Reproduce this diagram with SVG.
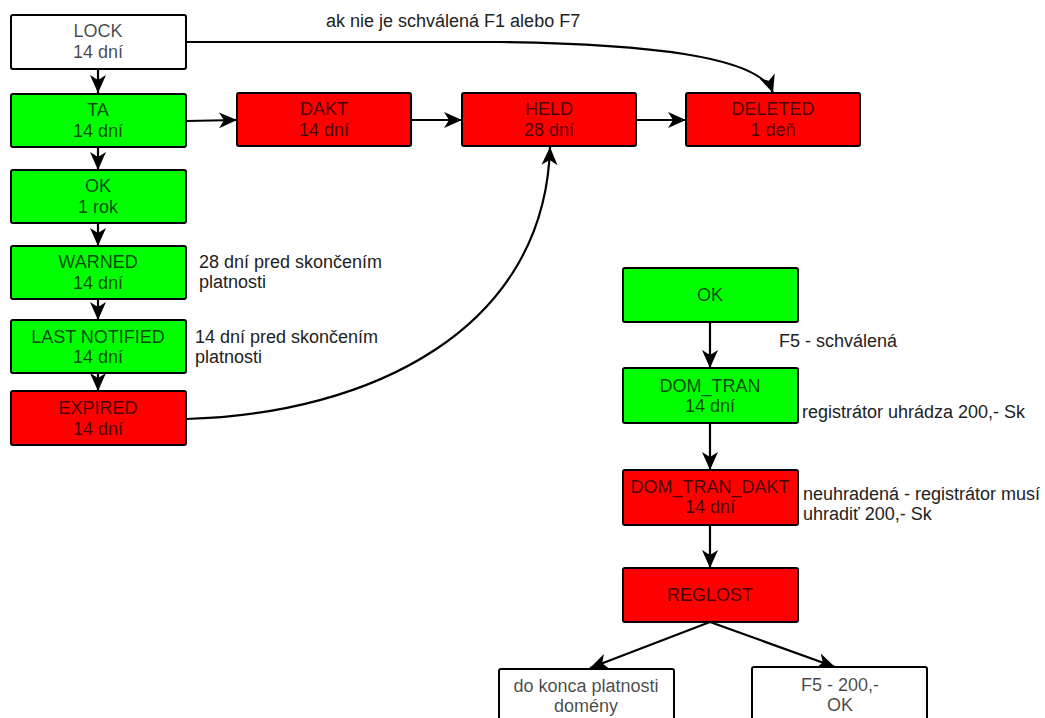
<svg xmlns="http://www.w3.org/2000/svg" width="1045" height="718" viewBox="0 0 1045 718">
<defs>
<style>
.n rect{stroke:#000;stroke-width:2}
.w{fill:#fff}.g{fill:#00ff00}.r{fill:#ff0000}
text{font-family:"Liberation Sans",Arial,sans-serif;font-size:18px}
.n text{text-anchor:middle;fill:#000;fill-opacity:0.72}
.lbl{fill:#222}
.c path,.c line{stroke:#000;stroke-width:2.2;fill:none}
</style>
<marker id="ah" markerUnits="userSpaceOnUse" markerWidth="20" markerHeight="20" viewBox="0 0 20 20" refX="18" refY="10" orient="auto">
<path d="M0,2 L18,10 L0,18 L5,10 z" fill="#000"/>
</marker>
</defs>
<rect width="1045" height="718" fill="#fff"/>

<g class="c" id="connectors">
<line x1="98" y1="69" x2="98" y2="93" marker-end="url(#ah)"/>
<line x1="98" y1="146" x2="98" y2="170" marker-end="url(#ah)"/>
<line x1="98" y1="223" x2="98" y2="246" marker-end="url(#ah)"/>
<line x1="98" y1="300" x2="98" y2="320" marker-end="url(#ah)"/>
<line x1="98" y1="373" x2="98" y2="391" marker-end="url(#ah)"/>
<line x1="186" y1="121" x2="237" y2="120" marker-end="url(#ah)"/>
<line x1="411" y1="120" x2="462" y2="120" marker-end="url(#ah)"/>
<line x1="636" y1="120" x2="686" y2="120" marker-end="url(#ah)"/>
<path d="M186,42 L500,42 C640,44 760,55 773,93" marker-end="url(#ah)"/>
<path d="M186,419 C370,414 545,330 550,147" marker-end="url(#ah)"/>
<line x1="710" y1="322" x2="710" y2="368" marker-end="url(#ah)"/>
<line x1="710" y1="423" x2="710" y2="470" marker-end="url(#ah)"/>
<line x1="710" y1="525" x2="710" y2="568" marker-end="url(#ah)"/>
<line x1="710" y1="622" x2="590" y2="668" marker-end="url(#ah)"/>
<line x1="710" y1="622" x2="835" y2="667" marker-end="url(#ah)"/>
</g>

<g class="n" id="lock"><rect class="w" x="11" y="15" width="175" height="54" rx="2"/><text x="98" y="37">LOCK</text><text x="98" y="58">14 dní</text></g>
<g class="n" id="ta"><rect class="g" x="11" y="94" width="175" height="53" rx="2"/><text x="98" y="116">TA</text><text x="98" y="137">14 dní</text></g>
<g class="n" id="ok1"><rect class="g" x="11" y="170" width="175" height="53" rx="2"/><text x="98" y="192">OK</text><text x="98" y="213">1 rok</text></g>
<g class="n" id="warned"><rect class="g" x="11" y="246" width="175" height="53" rx="2"/><text x="98" y="268">WARNED</text><text x="98" y="289">14 dní</text></g>
<g class="n" id="lastnotified"><rect class="g" x="11" y="320" width="175" height="53" rx="2"/><text x="98" y="343">LAST NOTIFIED</text><text x="98" y="363">14 dní</text></g>
<g class="n" id="expired"><rect class="r" x="11" y="391" width="175" height="54" rx="2"/><text x="98" y="414">EXPIRED</text><text x="98" y="435">14 dní</text></g>
<g class="n" id="dakt"><rect class="r" x="237" y="93" width="174" height="53" rx="2"/><text x="324" y="115">DAKT</text><text x="324" y="136">14 dní</text></g>
<g class="n" id="held"><rect class="r" x="462" y="93" width="174" height="53" rx="2"/><text x="549" y="115">HELD</text><text x="549" y="136">28 dní</text></g>
<g class="n" id="deleted"><rect class="r" x="686" y="93" width="174" height="53" rx="2"/><text x="773" y="115">DELETED</text><text x="773" y="136">1 deň</text></g>

<g class="n" id="ok2"><rect class="g" x="623" y="268" width="175" height="54" rx="2"/><text x="710" y="301">OK</text></g>
<g class="n" id="domtran"><rect class="g" x="623" y="368" width="175" height="55" rx="2"/><text x="710" y="392">DOM_TRAN</text><text x="710" y="412">14 dní</text></g>
<g class="n" id="domtrandakt"><rect class="r" x="623" y="470" width="175" height="55" rx="2"/><text x="710" y="493">DOM_TRAN_DAKT</text><text x="710" y="513">14 dní</text></g>
<g class="n" id="reglost"><rect class="r" x="623" y="568" width="175" height="54" rx="2"/><text x="710" y="601">REGLOST</text></g>
<g class="n" id="dokonca"><rect class="w" x="499" y="669" width="175" height="60" rx="2"/><text x="586" y="692">do konca platnosti</text><text x="586" y="712">domény</text></g>
<g class="n" id="f5ok"><rect class="w" x="752" y="667" width="175" height="60" rx="2"/><text x="840" y="691">F5 - 200,-</text><text x="840" y="711">OK</text></g>

<g id="labels">
<text class="lbl" x="326" y="27">ak nie je schválená F1 alebo F7</text>
<text class="lbl" x="199" y="268">28 dní pred skončením</text>
<text class="lbl" x="199" y="288">platnosti</text>
<text class="lbl" x="195" y="343">14 dní pred skončením</text>
<text class="lbl" x="195" y="363">platnosti</text>
<text class="lbl" x="779" y="347">F5 - schválená</text>
<text class="lbl" x="802" y="418">registrátor uhrádza 200,- Sk</text>
<text class="lbl" x="803" y="500">neuhradená - registrátor musí</text>
<text class="lbl" x="803" y="520">uhradiť 200,- Sk</text>
</g>
</svg>
